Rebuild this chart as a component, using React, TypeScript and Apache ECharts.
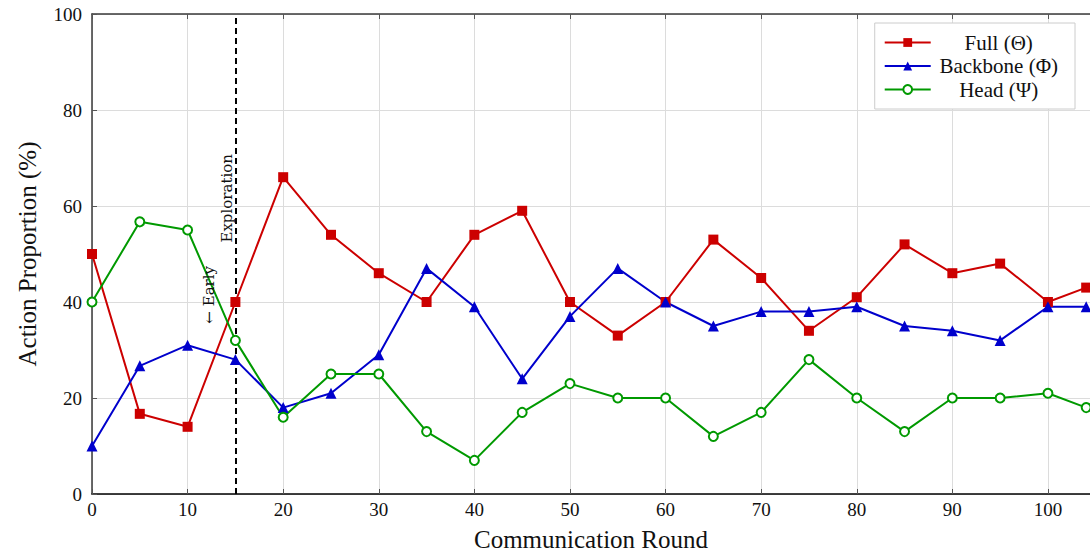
import React, { useEffect, useRef } from "react";
import * as echarts from "echarts";

// Communication rounds at which the action mix was recorded
const rounds = [0, 5, 10, 15, 20, 25, 30, 35, 40, 45, 50, 55, 60, 65, 70, 75, 80, 85, 90, 95, 100, 104];

// Share of each action (%) per round
const fullValues = [50, 16.7, 14, 40, 66, 54, 46, 40, 54, 59, 40, 33, 40, 53, 45, 34, 41, 52, 46, 48, 40, 43];
const backboneValues = [10, 26.7, 31, 28, 18, 21, 29, 47, 39, 24, 37, 47, 40, 35, 38, 38, 39, 35, 34, 32, 39, 39];
const headValues = [40, 56.7, 55, 32, 16, 25, 25, 13, 7, 17, 23, 20, 20, 12, 17, 28, 20, 13, 20, 20, 21, 18];

const seriesNames = ["Full (\u0398)", "Backbone (\u03A6)", "Head (\u03A8)"];
const seriesColors = ["#cc0000", "#0000cc", "#009900"];

const phaseBoundary = 15;

const SERIF = "'Liberation Serif', 'Times New Roman', serif";
const NOTE_FONT = "'DejaVu Serif', serif";

function pairs(values: number[]) {
  return rounds.map((r, i) => [r, values[i]]);
}

export default function App() {
  const ref = useRef<HTMLDivElement>(null);

  useEffect(() => {
    if (!ref.current) return;
    const chart = echarts.init(ref.current, undefined, { renderer: "svg" });

    const axisGray = "#3a3a3a";
    const gridGray = "#dcdcdc";

    const lineSeries = (name: string, color: string, values: number[], symbol: string, size: number, extra: any = {}) => ({
      name,
      type: "line",
      data: pairs(values),
      symbol,
      symbolSize: size,
      showAllSymbol: true,
      lineStyle: { color, width: 2 },
      itemStyle: { color, borderColor: color, borderWidth: symbol === "emptyCircle" ? 2 : 0 },
      emphasis: { disabled: true },
      z: 3,
      ...extra,
    });

    // rotated labels read bottom-to-top; offset[1] < 0 shifts them left of the line
    const note = (y: number, text: string, shift: number) => ({
      coord: [phaseBoundary, y],
      label: {
        show: true,
        formatter: text,
        rotate: 90,
        offset: [0, shift],
        fontFamily: NOTE_FONT,
        fontSize: 15,
        color: "#111",
      },
    });

    chart.setOption({
      animation: false,
      backgroundColor: "#ffffff",
      textStyle: { fontFamily: SERIF },
      grid: { left: 92, top: 14, right: 0, bottom: 59, containLabel: false },
      legend: {
        orient: "vertical",
        right: 15,
        top: 23,
        padding: [9, 17, 9, 9],
        itemGap: 2.5,
        itemWidth: 46,
        itemHeight: 11,
        backgroundColor: "#ffffff",
        borderColor: "#cccccc",
        borderWidth: 1,
        borderRadius: 0,
        data: seriesNames,
        formatter: (name: string) => `{t|${name}}`,
        textStyle: {
          fontFamily: SERIF,
          fontSize: 21,
          color: "#111",
          rich: { t: { width: 126, align: "center", fontFamily: SERIF, fontSize: 21, color: "#111" } },
        },
      },
      xAxis: [
        {
          type: "value",
          min: 0,
          max: 104.4,
          interval: 10,
          name: "Communication Round",
          nameLocation: "middle",
          nameGap: 33,
          nameTextStyle: { fontFamily: SERIF, fontSize: 25, color: "#111" },
          axisLine: { show: true, lineStyle: { color: "#000", width: 1.5 } },
          axisTick: { show: true, inside: true, length: 5, lineStyle: { color: "#555" } },
          axisLabel: {
            showMaxLabel: false,
            margin: 6,
            fontFamily: SERIF,
            fontSize: 19,
            color: "#111",
            formatter: (v: number) => (v % 10 === 0 ? String(v) : ""),
          },
          splitLine: { show: true, lineStyle: { color: gridGray, width: 1 } },
        },
        {
          type: "value",
          position: "top",
          min: 0,
          max: 104.4,
          interval: 10,
          axisLine: { show: true, lineStyle: { color: axisGray, width: 1.5 } },
          axisTick: { show: true, inside: true, length: 5, lineStyle: { color: "#555" } },
          axisLabel: { show: false },
          splitLine: { show: false },
        },
      ],
      yAxis: {
        type: "value",
        min: 0,
        max: 100,
        interval: 20,
        name: "Action Proportion (%)",
        nameLocation: "middle",
        nameGap: 52,
        nameRotate: 90,
        nameTextStyle: { fontFamily: SERIF, fontSize: 25, color: "#111" },
        axisLine: { show: true, lineStyle: { color: axisGray, width: 1.5 } },
        axisTick: { show: true, inside: true, length: 5, lineStyle: { color: "#555" } },
        axisLabel: { margin: 10, fontFamily: SERIF, fontSize: 19, color: "#111" },
        splitLine: { show: true, lineStyle: { color: gridGray, width: 1 } },
      },
      series: [
        lineSeries(seriesNames[0], seriesColors[0], fullValues, "rect", 10, {
          markLine: {
            silent: true,
            symbol: "none",
            animation: false,
            label: { show: false },
            lineStyle: { color: "#000", width: 2, type: [6, 4] },
            data: [{ xAxis: phaseBoundary }],
            z: 2,
          },
          markPoint: {
            silent: true,
            symbol: "circle",
            symbolSize: 0,
            data: [note(61.6, "Exploration", -8), note(41.5, "\u2190 Early", -26)],
          },
        }),
        lineSeries(seriesNames[1], seriesColors[1], backboneValues, "triangle", 11),
        lineSeries(seriesNames[2], seriesColors[2], headValues, "emptyCircle", 9),
      ],
    });

    return () => chart.dispose();
  }, []);

  return <div ref={ref} style={{ position: "fixed", left: 0, top: 0, width: 1090, height: 557 }} />;
}
